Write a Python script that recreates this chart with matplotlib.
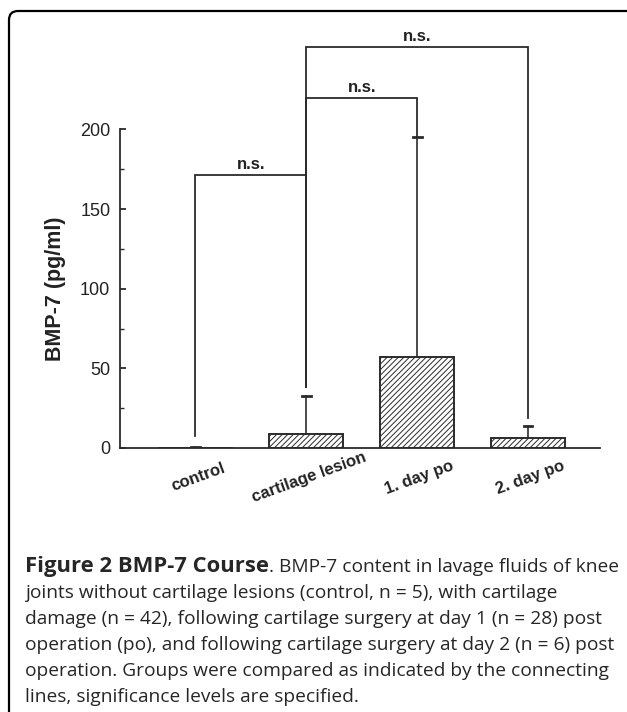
import numpy as np
import matplotlib.pyplot as plt
from matplotlib.patches import FancyBboxPatch

# values
groups = ["control", "cartilage lesion", "1. day po", "2. day po"]
means = [0.3, 8.6, 57.0, 6.5]
err_upper = [0.4, 24.0, 138.0, 7.5]     # SD above mean
bracket_foot = [7.7, 38.0, 195.0, 19.0]  # where each connecting line starts
# (left group, right group, height, label)
comparisons = [(0, 1, 171.5, "n.s."), (1, 2, 219.5, "n.s."), (1, 3, 251.5, "n.s.")]

caption_bold = "Figure 2 BMP-7 Course"
caption_first = ". BMP-7 content in lavage fluids of knee"
caption_rest = [
    "joints without cartilage lesions (control, n = 5), with cartilage",
    "damage (n = 42), following cartilage surgery at day 1 (n = 28) post",
    "operation (po), and following cartilage surgery at day 2 (n = 6) post",
    "operation. Groups were compared as indicated by the connecting",
    "lines, significance levels are specified.",
]

plt.rcParams['font.family'] = ['Liberation Sans', 'DejaVu Sans']
plt.rcParams['hatch.color'] = '#555555'
plt.rcParams['hatch.linewidth'] = 0.7

W, H = 627, 712
fig = plt.figure(figsize=(W / 100, H / 100), dpi=100)

# rounded frame around the whole figure
frame = FancyBboxPatch((0.09, -0.5), 6.5, 7.01 + 0.5, boxstyle="round,pad=0,rounding_size=0.09",
                       transform=fig.dpi_scale_trans, fill=False, lw=1.6, ec='black')
fig.patches.append(frame)

ax = fig.add_axes([120 / W, 1 - 448 / H, 480 / W, (448 - 18) / H])
x = np.arange(len(groups))
dark = '#2b2b2b'

ax.bar(x, means, width=0.67, color='white', edgecolor=dark, linewidth=1.4, hatch='//////', zorder=2)
for xi, m, e in zip(x, means, err_upper):
    ax.plot([xi, xi], [m, m + e], color=dark, lw=1.2, zorder=3)
    ax.plot([xi - 0.04, xi + 0.04], [m + e, m + e], color=dark, lw=2.0, zorder=3)

for a, b, h, lab in comparisons:
    ax.plot([a, a, b, b], [bracket_foot[a], h, h, bracket_foot[b]], color=dark, lw=1.3,
            clip_on=False, solid_joinstyle='miter')
    ax.text((a + b) / 2, h + 2, lab, ha='center', va='bottom', fontsize=12, fontweight='bold',
            color='#222222', clip_on=False)

ax.set_xlim(-0.68, 3.65)
ax.set_ylim(0, 270)
ax.spines['top'].set_visible(False)
ax.spines['right'].set_visible(False)
ax.spines['left'].set_bounds(0, 200)
for s in ('left', 'bottom'):
    ax.spines[s].set_linewidth(1.3)
    ax.spines[s].set_color(dark)

ax.set_yticks(np.arange(0, 201, 50))
ax.set_yticks(np.arange(25, 200, 50), minor=True)
ax.tick_params(axis='y', which='major', direction='in', length=4, width=1.3, pad=7,
               labelsize=13, colors=dark, labelcolor='#222222')
ax.tick_params(axis='y', which='minor', direction='in', length=3, width=1.0, colors=dark)
ax.set_xticks(x)
ax.set_xticklabels(groups, rotation=20, fontsize=12, fontweight='bold', color='#222222',
                   ha='center', rotation_mode='anchor', va='top')
ax.tick_params(axis='x', length=0, pad=16)
ax.set_ylabel("BMP-7 (pg/ml)", fontsize=15.5, fontweight='bold', color='#222222')
ax.yaxis.set_label_coords(66 / W, 1 - 289 / H, transform=fig.transFigure)

# caption
cap_font = dict(family='Open Sans', color='#262626')
x0 = 25 / W
renderer = fig.canvas.get_renderer()
t = fig.text(x0, 1 - 572 / H, caption_bold, fontweight='bold', fontsize=15.8, va='baseline', **cap_font)
bb = t.get_window_extent(renderer)
fig.text(bb.x1 / W, 1 - 572 / H, caption_first, fontsize=13.8, va='baseline', **cap_font)
for i, line in enumerate(caption_rest):
    fig.text(x0, 1 - (598 + 26 * i) / H, line, fontsize=13.8, va='baseline', **cap_font)

fig.savefig("out.png", dpi=100)
